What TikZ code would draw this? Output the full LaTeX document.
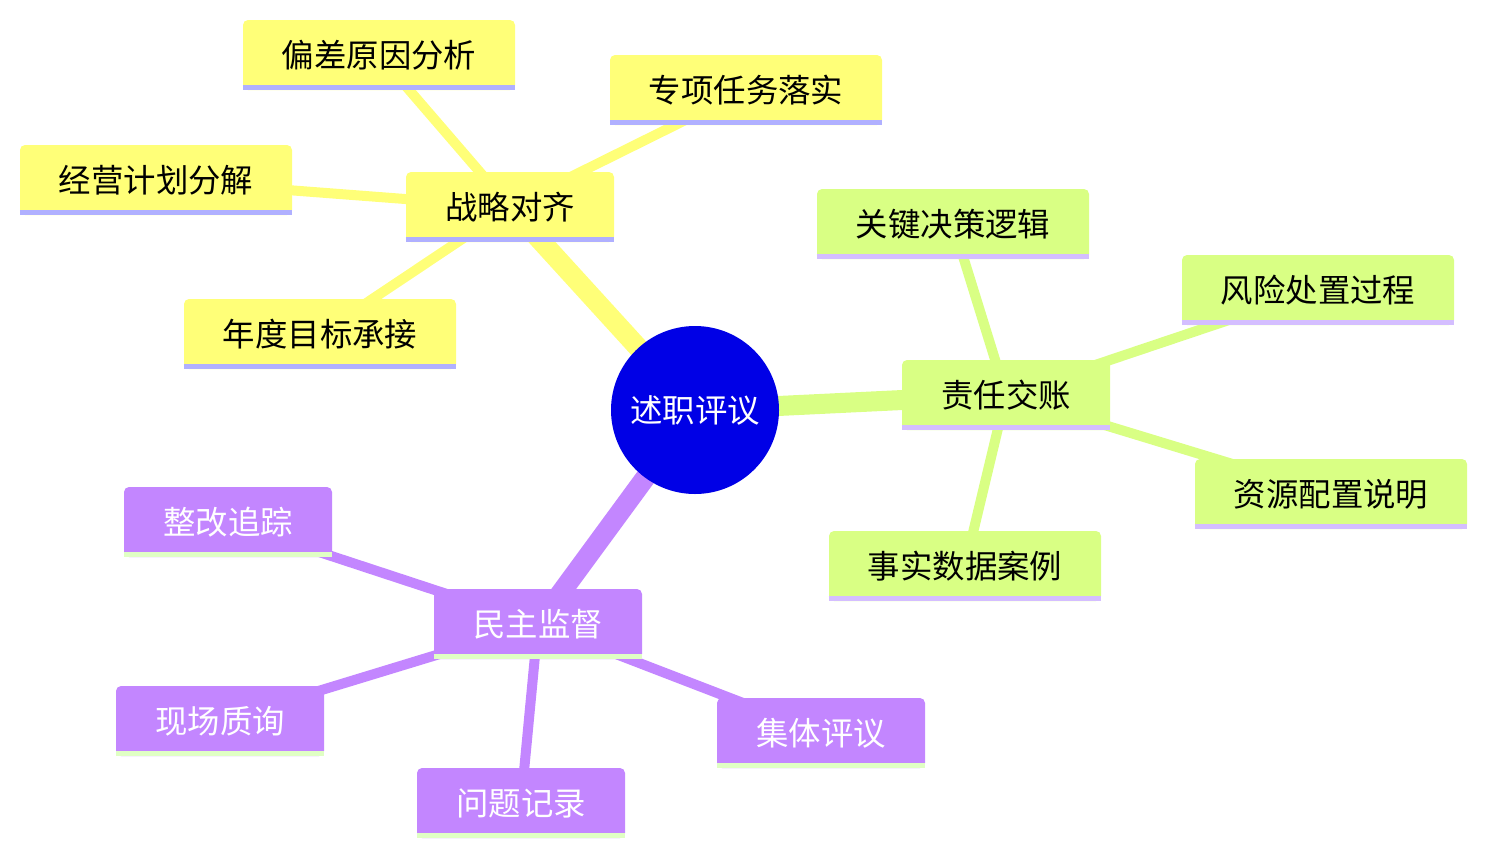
\documentclass[tikz,border=0pt]{standalone}
\usepackage{fontspec}
\newfontfamily\cjk{Noto Sans CJK SC}
\definecolor{yfill}{RGB}{255,255,120}
\definecolor{yline}{RGB}{176,176,255}
\definecolor{gfill}{RGB}{217,255,132}
\definecolor{gline}{RGB}{212,190,255}
\definecolor{pfill}{RGB}{195,134,255}
\definecolor{pline}{RGB}{224,255,196}
\definecolor{rootblue}{RGB}{0,0,230}
\pgfdeclarelayer{bg}
\pgfsetlayers{bg,main}
\tikzset{
  mmfont/.style={font=\cjk\fontsize{32.4}{38}\selectfont},
  mm/.style={mmfont, inner sep=0pt, minimum height=70pt, rounded corners=5pt},
  four/.style={minimum width=208pt},
  six/.style={minimum width=272pt},
  ybox/.style={mm, fill=yfill, text=black},
  gbox/.style={mm, fill=gfill, text=black},
  pbox/.style={mm, fill=pfill, text=white},
  uline/.style={line width=5pt},
  rootedge/.style={line width=20pt},
  childedge/.style={line width=10pt},
}
\newcommand\mmunder[2]{\draw[uline,#2] ([yshift=2.5pt]#1.south west) -- ([yshift=2.5pt]#1.south east);}
\begin{document}
\begin{tikzpicture}[x=1pt,y=-1pt]
\useasboundingbox (0,0) rectangle (1487,855);
% root
\node[circle, fill=rootblue, minimum size=168pt, inner sep=0pt, text=white, mmfont] (root) at (695,410) {述职评议};
% yellow section
\node[ybox,four] (s1) at (510,207) {战略对齐};
\node[ybox,six] (a1) at (379,55) {偏差原因分析};
\node[ybox,six] (a2) at (746,90) {专项任务落实};
\node[ybox,six] (a3) at (156,180) {经营计划分解};
\node[ybox,six] (a4) at (320,334) {年度目标承接};
% green section
\node[gbox,four] (s2) at (1006,395) {责任交账};
\node[gbox,six] (b1) at (953,224) {关键决策逻辑};
\node[gbox,six] (b2) at (1318,290) {风险处置过程};
\node[gbox,six] (b3) at (1331,494) {资源配置说明};
\node[gbox,six] (b4) at (965,566) {事实数据案例};
% purple section
\node[pbox,four] (s3) at (538,624) {民主监督};
\node[pbox,four] (c1) at (228,522) {整改追踪};
\node[pbox,four] (c2) at (220,721) {现场质询};
\node[pbox,four] (c3) at (521,803) {问题记录};
\node[pbox,four] (c4) at (821,733) {集体评议};
% underlines
\foreach \n in {s1,a1,a2,a3,a4}{\mmunder{\n}{yline}}
\foreach \n in {s2,b1,b2,b3,b4}{\mmunder{\n}{gline}}
\foreach \n in {s3,c1,c2,c3,c4}{\mmunder{\n}{pline}}
\begin{pgfonlayer}{bg}
\draw[rootedge,yfill] (root.center) -- (s1.center);
\draw[rootedge,gfill] (root.center) -- (s2.center);
\draw[rootedge,pfill] (root.center) -- (s3.center);
\foreach \n in {a1,a2,a3,a4}{\draw[childedge,yfill] (s1.center) -- (\n.center);}
\foreach \n in {b1,b2,b3,b4}{\draw[childedge,gfill] (s2.center) -- (\n.center);}
\foreach \n in {c1,c2,c3,c4}{\draw[childedge,pfill] (s3.center) -- (\n.center);}
\end{pgfonlayer}
\end{tikzpicture}
\end{document}
